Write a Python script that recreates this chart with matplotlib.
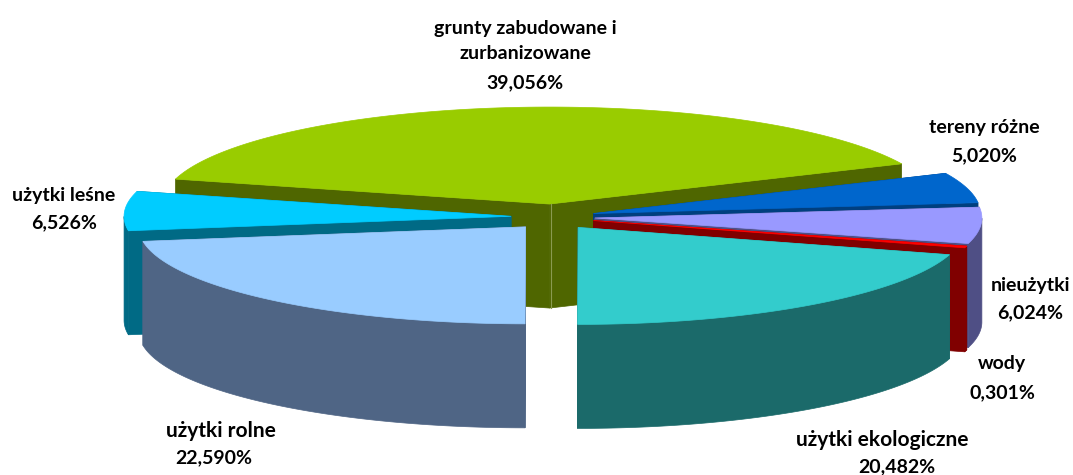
import matplotlib
matplotlib.use('Agg')
import matplotlib.pyplot as plt
from matplotlib.patches import Polygon
import numpy as np

# data, counter-clockwise from the right edge of the green slice
names = ['grunty zabudowane i\nzurbanizowane', 'użytki leśne', 'użytki rolne',
         'użytki ekologiczne', 'wody', 'nieużytki', 'tereny różne']
values = [39.056, 6.526, 22.590, 20.482, 0.301, 6.024, 5.020]
top_cols = ['#99CC00', '#00CCFF', '#99CCFF', '#33CCCC', '#FF0000', '#9999FF', '#0066CC']
side_cols = ['#4F6600', '#006A85', '#4F6585', '#1B6A6A', '#800000', '#4F4F85', '#003F7F']
draw_order = [0, 6, 1, 5, 4, 2, 3]

# label anchors in pixels: name centre, value centre
name_pos = [(525, 41), (64, 195), (221, 431), (882, 440), (1002, 364), (1030, 285), (984, 128)]
val_pos = [(525, 83), (64, 223), (214, 458), (897, 467), (1002, 393), (1030, 313), (984, 156)]
name_size = [14, 14, 15, 15, 14, 14, 14]

# pie geometry in pixels
cx, cy = 553, 217
rx, ry = 387, 97
ex, ey = 42, 13
depth = 104
start = 24.5

fig = plt.figure(figsize=(10.73, 4.75), dpi=100)
ax = fig.add_axes([0, 0, 1, 1])
ax.set_xlim(0, 1073)
ax.set_ylim(475, 0)
ax.axis('off')

angles = start + np.cumsum([0] + values) * 3.6


def rim(t, ox, oy):
    t = np.radians(t)
    return ox + rx * np.cos(t), oy - ry * np.sin(t)


for i in draw_order:
    a, b = angles[i], angles[i + 1]
    mid = np.radians((a + b) / 2)
    ox = cx + ex * np.cos(mid)
    oy = cy - ey * np.sin(mid)
    ts = np.linspace(a, b, 120)
    xs, ys = rim(ts, ox, oy)

    # cut faces
    for t in (a, b):
        x, y = rim(t, ox, oy)
        ax.add_patch(Polygon([(ox, oy), (x, y), (x, y + depth), (ox, oy + depth)],
                             fc=side_cols[i], ec=side_cols[i], lw=0.5))
    # outer wall, only the part that faces the viewer
    front = np.sin(np.radians(ts)) <= 0
    if front.any():
        fx, fy = xs[front], ys[front]
        pts = list(zip(fx, fy)) + list(zip(fx[::-1], fy[::-1] + depth))
        ax.add_patch(Polygon(pts, fc=side_cols[i], ec=side_cols[i], lw=0.5))
    # top
    pts = [(ox, oy)] + list(zip(xs, ys))
    ax.add_patch(Polygon(pts, fc=top_cols[i], ec=top_cols[i], lw=0.5))
    if i == 0:
        ax.plot([ox + 2, ox + 2], [oy, oy + depth], color='#8A9A50', lw=0.8)

for n, v, p, q, s in zip(names, values, name_pos, val_pos, name_size):
    ax.text(p[0], p[1], n, ha='center', va='center', family='Lato', weight='bold',
            fontsize=s, color='black', linespacing=1.6)
    ax.text(q[0], q[1], f'{v:.3f}%'.replace('.', ','), ha='center', va='center',
            family='Lato', weight='bold', fontsize=14, color='black')

plt.savefig('out.png', dpi=100)
